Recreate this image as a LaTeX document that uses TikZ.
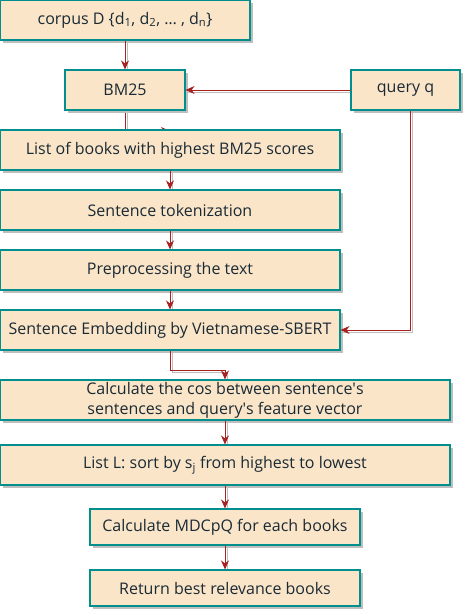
\documentclass[tikz,border=0pt]{standalone}
\usepackage{fontspec}
\setmainfont{Open Sans}
\usetikzlibrary{arrows.meta,shadows,calc}
\definecolor{boxfill}{HTML}{FAE5C8}
\definecolor{boxline}{HTML}{008F8C}
\definecolor{arr}{HTML}{A8201F}
\definecolor{txt}{HTML}{1A2A35}
\definecolor{shd}{HTML}{BEBEBE}
\pgfdeclarelayer{bg}
\pgfsetlayers{bg,main}
\tikzset{
  box/.style={draw=boxline, line width=1.1pt, fill=boxfill, text=txt,
    font=\fontsize{16}{20}\selectfont, align=center, inner sep=0pt,
    drop shadow={shadow xshift=3pt, shadow yshift=-3pt, fill=shd, opacity=1}},
  conn/.style={draw=arr, line width=1pt, -{Stealth[length=9pt,width=8pt]}},
  connshadow/.style={draw=shd, line width=1pt, transform canvas={xshift=2pt,yshift=-2pt}}
}
\begin{document}
\begin{tikzpicture}[x=1pt,y=1pt]
\useasboundingbox (0,0) rectangle (464,-611);
\node[box, minimum width=250, minimum height=40] (corpus) at (125,-20) {corpus D \{d\textsubscript{1}, d\textsubscript{2}, … , d\textsubscript{n}\}};
\node[box, minimum width=120, minimum height=40] (bm) at (125,-90) {BM25};
\node[box, minimum width=109, minimum height=40] (query) at (405.5,-90) {query q};
\coordinate (bmend) at (170,-131);
\begin{pgfonlayer}{bg}
  \draw[connshadow] (bm.south) |- (bmend);
  \draw[conn] (bm.south) |- (bmend);
\end{pgfonlayer}
\node[box, minimum width=340, minimum height=40] (list) at (170,-150) {List of books with highest BM25 scores};
\node[box, minimum width=340, minimum height=40] (tok) at (170,-210) {Sentence tokenization};
\node[box, minimum width=340, minimum height=40] (pre) at (170,-270) {Preprocessing the text};
\node[box, minimum width=340, minimum height=40] (emb) at (170,-330) {Sentence Embedding by Vietnamese-SBERT};
\node[box, minimum width=450, minimum height=40] (cos) at (225,-400) {Calculate the cos between sentence\textquotesingle s\\sentences and query\textquotesingle s feature vector};
\node[box, minimum width=450, minimum height=40] (listL) at (225,-465) {List L: sort by s\textsubscript{j} from highest to lowest};
\node[box, minimum width=270, minimum height=36] (mdc) at (225,-527) {Calculate MDCpQ for each books};
\node[box, minimum width=270, minimum height=36] (ret) at (225,-588) {Return best relevance books};
\begin{pgfonlayer}{bg}
  \draw[connshadow] (corpus.south) -- (bm.north);
  \draw[connshadow] (query.west) -- (bm.east);
  \draw[connshadow] (query.south -| 410,0) |- (emb.east);
  \draw[connshadow] (list.south) -- (tok.north);
  \draw[connshadow] (tok.south) -- (pre.north);
  \draw[connshadow] (pre.south) -- (emb.north);
  \draw[connshadow] (emb.south) -- ++(0,-20) -| (cos.north);
  \draw[connshadow] (cos.south) -- (listL.north);
  \draw[connshadow] (listL.south) -- (mdc.north);
  \draw[connshadow] (mdc.south) -- (ret.north);
\end{pgfonlayer}
\draw[conn] (corpus.south) -- (bm.north);
\draw[conn] (query.west) -- (bm.east);
\draw[conn] (query.south -| 410,0) |- (emb.east);
\draw[conn] (list.south) -- (tok.north);
\draw[conn] (tok.south) -- (pre.north);
\draw[conn] (pre.south) -- (emb.north);
\draw[conn] (emb.south) -- ++(0,-20) -| (cos.north);
\draw[conn] (cos.south) -- (listL.north);
\draw[conn] (listL.south) -- (mdc.north);
\draw[conn] (mdc.south) -- (ret.north);
\end{tikzpicture}
\end{document}
